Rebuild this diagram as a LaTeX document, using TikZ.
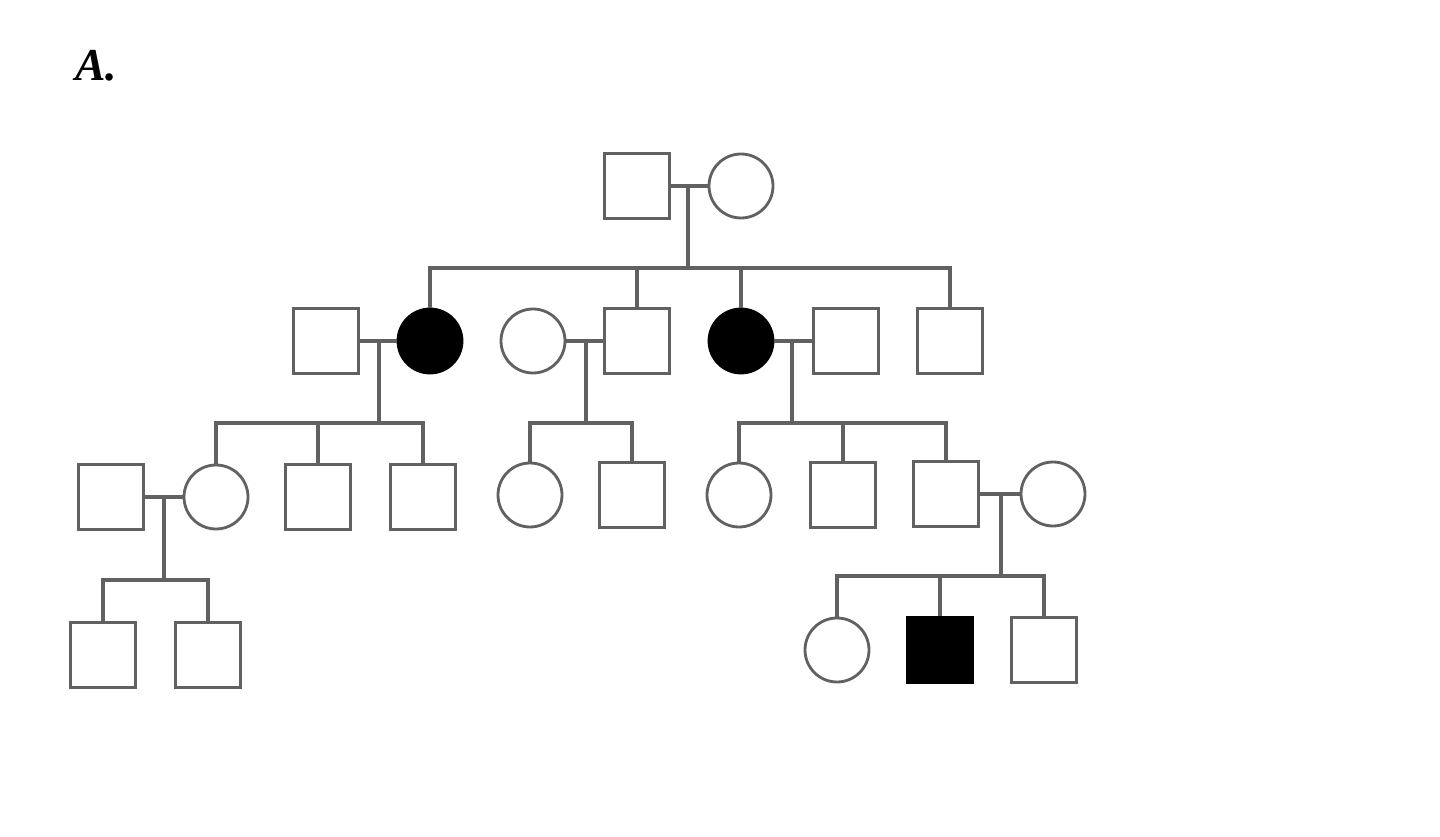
\documentclass[tikz,border=0pt]{standalone}
\usepackage{fontspec}
\setmainfont{Liberation Serif}
\begin{document}
\begin{tikzpicture}[x=0.02cm,y=-0.02cm,
  ln/.style={draw=black!62,line width=2pt},
  male/.style={rectangle,draw=black!62,line width=1.6pt,minimum size=1.3cm,inner sep=0pt,fill=white},
  female/.style={circle,draw=black!62,line width=1.6pt,minimum size=1.28cm,inner sep=0pt,fill=white},
  aff/.style={fill=black,draw=black}]
\useasboundingbox (0,0) rectangle (1440,837);
\node[font=\fontsize{26}{30}\selectfont\bfseries\itshape] (lab) at (96,66) {A.};
% Generation I
\node[male] (g1m) at (637,186) {};
\node[female] (g1f) at (741,186) {};
% Generation II
\node[male] (a1) at (326,341) {};
\node[female,aff] (a2) at (430,341) {};
\node[female] (a3) at (533,341) {};
\node[male] (a4) at (637,341) {};
\node[female,aff] (a5) at (741,341) {};
\node[male] (a6) at (846,341) {};
\node[male] (a7) at (950,341) {};
% Generation III
\node[male] (b1) at (111,497) {};
\node[female] (b2) at (216,497) {};
\node[male] (b3) at (318,497) {};
\node[male] (b4) at (423,497) {};
\node[female] (b5) at (530,495) {};
\node[male] (b6) at (632,495) {};
\node[female] (b7) at (739,495) {};
\node[male] (b8) at (843,495) {};
\node[male] (b9) at (946,494) {};
\node[female] (b10) at (1053,494) {};
% Generation IV
\node[male] (c1) at (103,655) {};
\node[male] (c2) at (208,655) {};
\node[female] (c3) at (837,650) {};
\node[male,aff] (c4) at (940,650) {};
\node[male] (c5) at (1044,650) {};
% Gen I family
\draw[ln] (g1m.east) -- (g1f.west);
\coordinate (m1) at (688,186);
\coordinate (s1) at (688,268);
\draw[ln] (m1) -- (s1);
\draw[ln] (a2.north) -- (a2.north |- s1) -- (a7.north |- s1) -- (a7.north);
\draw[ln] (a4.north |- s1) -- (a4.north);
\draw[ln] (a5.north |- s1) -- (a5.north);
% a1 x a2
\draw[ln] (a1.east) -- (a2.west);
\coordinate (m2) at (379,341);
\coordinate (s2) at (379,423);
\draw[ln] (m2) -- (s2);
\draw[ln] (b2.north) -- (b2.north |- s2) -- (b4.north |- s2) -- (b4.north);
\draw[ln] (b3.north |- s2) -- (b3.north);
% a3 x a4
\draw[ln] (a3.east) -- (a4.west);
\coordinate (m3) at (586,341);
\coordinate (s3) at (586,423);
\draw[ln] (m3) -- (s3);
\draw[ln] (b5.north) -- (b5.north |- s3) -- (b6.north |- s3) -- (b6.north);
% a5 x a6
\draw[ln] (a5.east) -- (a6.west);
\coordinate (m4) at (792,341);
\coordinate (s4) at (792,423);
\draw[ln] (m4) -- (s4);
\draw[ln] (b7.north) -- (b7.north |- s4) -- (b9.north |- s4) -- (b9.north);
\draw[ln] (b8.north |- s4) -- (b8.north);
% b1 x b2
\draw[ln] (b1.east) -- (b2.west);
\coordinate (m5) at (164,497);
\coordinate (s5) at (164,580);
\draw[ln] (m5) -- (s5);
\draw[ln] (c1.north) -- (c1.north |- s5) -- (c2.north |- s5) -- (c2.north);
% b9 x b10
\draw[ln] (b9.east) -- (b10.west);
\coordinate (m6) at (1001,494);
\coordinate (s6) at (1001,576);
\draw[ln] (m6) -- (s6);
\draw[ln] (c3.north) -- (c3.north |- s6) -- (c5.north |- s6) -- (c5.north);
\draw[ln] (c4.north |- s6) -- (c4.north);
\end{tikzpicture}
\end{document}
